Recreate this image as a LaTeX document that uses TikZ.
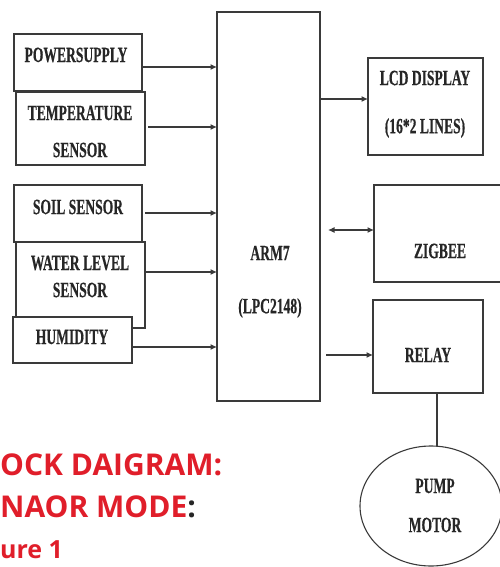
\documentclass[tikz,border=0pt]{standalone}
\usepackage{fontspec}
\setmainfont{Liberation Serif}[BoldFeatures={FakeBold=0.6}]
\newfontfamily\capfont{Open Sans}
\usetikzlibrary{arrows.meta,shapes.geometric}
\definecolor{lnc}{HTML}{3A3A3A}
\definecolor{capred}{HTML}{E01E2A}
\newcommand{\bt}[1]{\scalebox{0.97}[1.55]{#1}}
\begin{document}
\begin{tikzpicture}[x=1pt,y=-1pt,
  blk/.style={draw=lnc,line width=1.1pt,fill=white,inner sep=0pt,outer sep=0pt},
  lbl/.style={font=\bfseries\fontsize{14}{15}\selectfont,inner sep=0pt,text=black!85},
  arr/.style={draw=lnc,line width=1.1pt,-{Latex[length=6.5pt,width=6pt]}},
  darr/.style={draw=lnc,line width=1.1pt,{Latex[length=6.5pt,width=6pt]}-{Latex[length=6.5pt,width=6pt]}},
  captxt/.style={font=\capfont\bfseries\fontsize{30}{31}\selectfont,text=capred,inner sep=0pt,anchor=base west}]
\useasboundingbox (0,0) rectangle (500,567);
% boxes
\node[blk,minimum width=128pt,minimum height=57pt] (pw) at (78,62.5) {};
\node[blk,minimum width=129pt,minimum height=73pt] (tmp) at (80.5,128.5) {};
\node[blk,minimum width=128pt,minimum height=57pt] (soil) at (78,213.5) {};
\node[blk,minimum width=129pt,minimum height=86pt] (wl) at (80.5,285) {};
\node[blk,minimum width=119pt,minimum height=46pt] (hum) at (72.5,340) {};
\node[blk,minimum width=103pt,minimum height=389pt] (arm) at (268.5,206.5) {};
\node[blk,minimum width=115pt,minimum height=97pt] (lcd) at (425.5,106.5) {};
\node[blk,minimum width=131pt,minimum height=97pt] (zig) at (439.5,233.5) {};
\node[blk,minimum width=110pt,minimum height=93pt] (rel) at (428,346.5) {};
\node[draw=lnc,line width=1.1pt,ellipse,minimum width=142pt,minimum height=120pt,inner sep=0pt,outer sep=0pt] (pump) at (431,506) {};
% labels
\node[lbl] (t1) at (76,55) {\bt{POWERSUPPLY}};
\node[lbl] (t2) at (80,113) {\bt{TEMPERATURE}};
\node[lbl] (t3) at (80,150) {\bt{SENSOR}};
\node[lbl] (t4) at (78,207) {\bt{SOIL SENSOR}};
\node[lbl] (t5) at (80,263) {\bt{WATER LEVEL}};
\node[lbl] (t6) at (80,290) {\bt{SENSOR}};
\node[lbl] (t7) at (72,337) {\bt{HUMIDITY}};
\node[lbl] (t8) at (270,253) {\bt{ARM7}};
\node[lbl] (t9) at (270,308) {\bt{(LPC2148)}};
\node[lbl] (t10) at (425,78) {\bt{LCD DISPLAY}};
\node[lbl] (t11) at (425,128) {\bt{(16*2 LINES)}};
\node[lbl] (t12) at (440,251) {\bt{ZIGBEE}};
\node[lbl] (t13) at (428,355) {\bt{RELAY}};
\node[lbl] (t14) at (435,486) {\bt{PUMP}};
\node[lbl] (t15) at (435,525) {\bt{MOTOR}};
% arrows
\coordinate (a1) at (143,67);
\coordinate (a2) at (148,127);
\coordinate (a3) at (145,213);
\coordinate (a4) at (145,272);
\coordinate (a5) at (132,347);
\draw[arr] (a1) -- (a1 -| arm.west);
\draw[arr] (a2) -- (a2 -| arm.west);
\draw[arr] (a3) -- (a3 -| arm.west);
\draw[arr] (a4) -- (a4 -| arm.west);
\draw[arr] (a5) -- (a5 -| arm.west);
\coordinate (b1) at (320,99);
\coordinate (b2) at (328,230);
\coordinate (b3) at (326,355);
\draw[arr] (b1) -- (b1 -| lcd.west);
\draw[darr] (b2) -- (b2 -| zig.west);
\draw[arr] (b3) -- (b3 -| rel.west);
\coordinate (r1) at (437,0);
\draw[draw=lnc,line width=1.1pt] (rel.south -| r1) -- (pump.north -| r1);
% caption
\node[captxt] (c1) at (0,475) {OCK DAIGRAM:};
\node[captxt] (c2) at (0,517) {NAOR MODE\textcolor{black!85}{:}};
\node[captxt,font=\capfont\bfseries\fontsize{25}{26}\selectfont] (c3) at (0,558) {ure 1};
\end{tikzpicture}
\end{document}
